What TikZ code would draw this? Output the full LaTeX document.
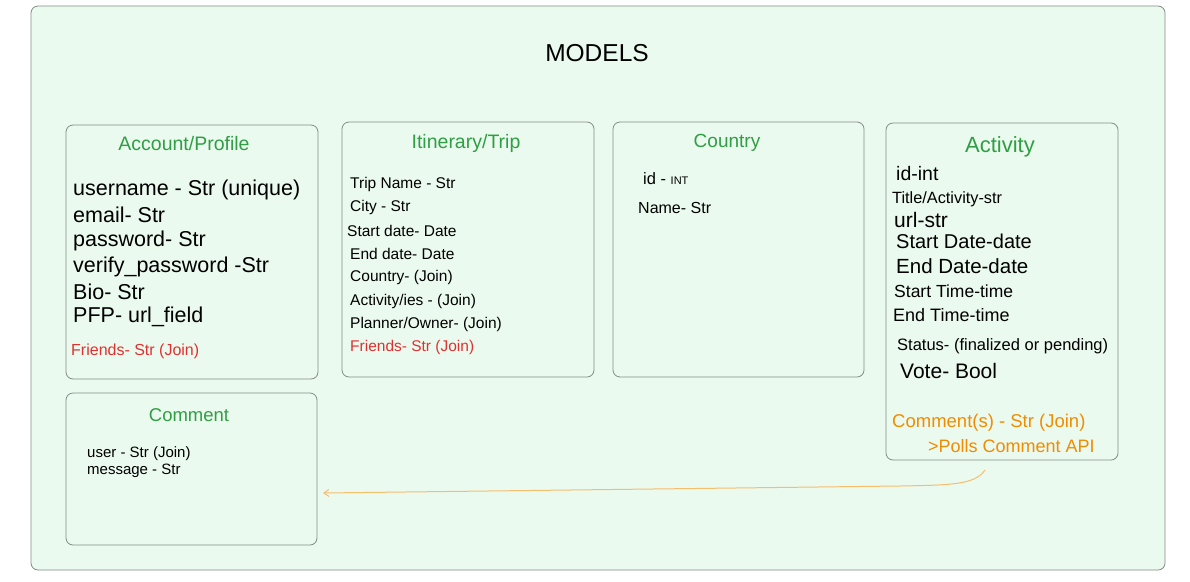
\documentclass[tikz,border=0pt]{standalone}
\usepackage{fontspec}
\setmainfont{Liberation Sans}
\usetikzlibrary{arrows.meta}
\definecolor{bgfill}{RGB}{235,250,238}
\definecolor{boxline}{RGB}{130,140,135}
\definecolor{ttlgreen}{RGB}{47,158,68}
\definecolor{fred}{RGB}{224,49,49}
\definecolor{forange}{RGB}{240,140,0}
\definecolor{arrorange}{RGB}{245,190,110}
\tikzset{
  model/.style={draw=boxline, fill=bgfill, line width=0.8pt, rounded corners=7pt},
  ttl/.style={text=ttlgreen, font=\fontsize{#1}{#1}\selectfont},
  fld/.style={anchor=west, inner sep=0pt, text=black},
  fs/.style={font=\fontsize{#1}{#1}\selectfont},
}
\begin{document}
\begin{tikzpicture}[x=1pt,y=-1pt]
\useasboundingbox (0,0) rectangle (1190,581);
\fill[white] (0,0) rectangle (1190,581);
\draw[model] (31,6) rectangle (1165,570);
\node[font=\fontsize{24.5}{26}\selectfont] (title) at (597,53) {MODELS};

% boxes
\draw[model] (66,125) rectangle (318,379);
\draw[model] (342,122) rectangle (594,377);
\draw[model] (613,122) rectangle (864,377);
\draw[model] (886,123) rectangle (1118,460);
\draw[model] (66,393) rectangle (317,545);

% Account/Profile
\node[ttl=19.5] (acct) at (184,144) {Account/Profile};
\node[fld,fs=21.5] (a1) at (73,190) {username - Str (unique)};
\node[fld,fs=21.5] (a2) at (73,215) {email- Str};
\node[fld,fs=21.5] (a3) at (73,241) {password- Str};
\node[fld,fs=21.5] (a4) at (73,267) {verify\_password -Str};
\node[fld,fs=21.5] (a5) at (73,292) {Bio- Str};
\node[fld,fs=21.5] (a6) at (73,317) {PFP- url\_field};
\node[fld,fs=16,text=fred] (a7) at (71,351) {Friends- Str (Join)};

% Itinerary/Trip
\node[ttl=19.5] (itin) at (466,143) {Itinerary/Trip};
\node[fld,fs=15.5] (i1) at (350,184) {Trip Name - Str};
\node[fld,fs=15.5] (i2) at (350,207) {City - Str};
\node[fld,fs=15.5] (i3) at (347,231) {Start date- Date};
\node[fld,fs=15.5] (i4) at (350,254) {End date- Date};
\node[fld,fs=15.5] (i5) at (350,277) {Country- (Join)};
\node[fld,fs=15.5] (i6) at (350,301) {Activity/ies - (Join)};
\node[fld,fs=15.5] (i7) at (350,324) {Planner/Owner- (Join)};
\node[fld,fs=15.5,text=fred] (i8) at (350,347) {Friends- Str (Join)};

% Country
\node[ttl=19] (ctry) at (727,143) {Country};
\node[fld,fs=16.5] (c1) at (643,179) {id - {\fontsize{11}{11}\selectfont INT}};
\node[fld,fs=16] (c2) at (638,208) {Name- Str};

% Activity
\node[ttl=22] (act) at (1000,147) {Activity};
\node[fld,fs=19.5] (v1) at (896,174) {id-int};
\node[fld,fs=16.3] (v2) at (892,199) {Title/Activity-str};
\node[fld,fs=21] (v3) at (894,220) {url-str};
\node[fld,fs=20] (v4) at (896,241) {Start Date-date};
\node[fld,fs=20.5] (v5) at (896,266) {End Date-date};
\node[fld,fs=17.5] (v6) at (894,291) {Start Time-time};
\node[fld,fs=18] (v7) at (893,315) {End Time-time};
\node[fld,fs=16.5] (v8) at (897,346) {Status- (finalized or pending)};
\node[fld,fs=21] (v9) at (900,371) {Vote- Bool};
\node[fld,fs=18.5,text=forange] (v10) at (892,423) {Comment(s) - Str (Join)};
\node[fld,fs=18,text=forange] (v11) at (928,446) {>Polls Comment API};

% Comment
\node[ttl=18.5] (cmt) at (189,415) {Comment};
\node[fld,fs=15] (m1) at (87,454) {user - Str (Join)};
\node[fld,fs=15] (m2) at (87,471) {message - Str};

% connector
\coordinate (src) at (985,470);
\coordinate (dst) at (323,493);
\draw[arrorange, line width=1pt, -{Straight Barb[length=5pt,width=7pt]}]
  (src) .. controls (975,485) and (950,485) .. (900,486) -- (dst);
\end{tikzpicture}
\end{document}
